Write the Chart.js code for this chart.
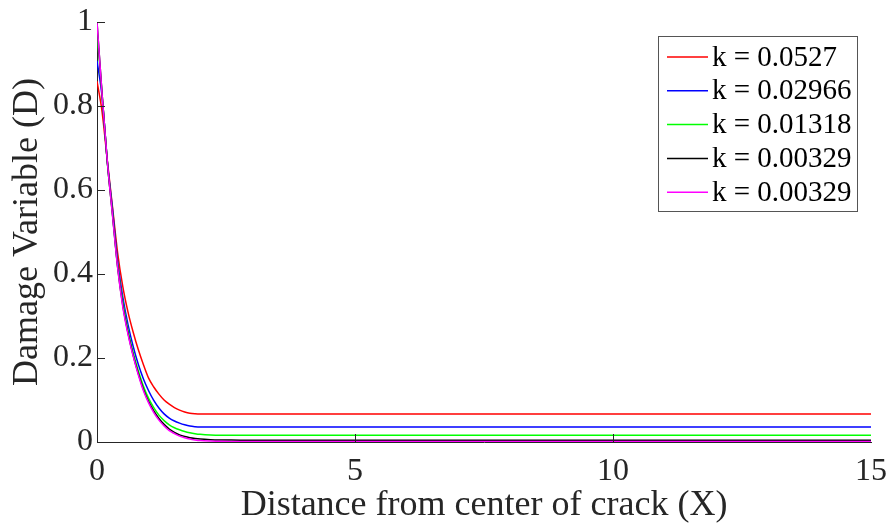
<!DOCTYPE html>
<html>
<head>
<meta charset="utf-8">
<title>Damage Variable</title>
<script src="https://cdn.jsdelivr.net/npm/chart.js@4.4.1/dist/chart.umd.min.js"></script>
<style>
    html, body { margin: 0; padding: 0; background: #ffffff; }
    #damage-chart { display: block; }
</style>
</head>
<body>
<canvas id="damage-chart" width="891" height="529"></canvas>
<script>
// Data
var distance = [0, 0.1, 0.2, 0.3, 0.4, 0.5, 0.6, 0.7, 0.8, 0.9, 1.0, 1.1, 1.2, 1.3, 1.4, 1.5, 1.6, 1.7, 1.8, 1.9, 2.0, 2.2, 2.4, 2.6, 2.8, 3.0, 15];
var seriesNames = ["k = 0.0527", "k = 0.02966", "k = 0.01318", "k = 0.00329", "k = 0.00329"];
var seriesColors = ["#ff0000", "#0000ff", "#00ff00", "#000000", "#ff00ff"];
var damageRed = [0.859, 0.785, 0.67, 0.56, 0.45, 0.37, 0.31, 0.262, 0.22, 0.184, 0.152, 0.131, 0.114, 0.1, 0.09, 0.082, 0.076, 0.0715, 0.0685, 0.0672, 0.0667, 0.0667, 0.0667, 0.0667, 0.0667, 0.0667, 0.0667];
var damageBlue = [0.908, 0.82, 0.668, 0.555, 0.43, 0.345, 0.28, 0.228, 0.185, 0.15, 0.122, 0.099, 0.081, 0.067, 0.057, 0.05, 0.045, 0.041, 0.038, 0.0365, 0.0357, 0.0355, 0.0355, 0.0355, 0.0355, 0.0355, 0.0355];
var damageGreen = [0.975, 0.826, 0.667, 0.545, 0.42, 0.333, 0.266, 0.213, 0.17, 0.133, 0.104, 0.082, 0.064, 0.051, 0.041, 0.034, 0.029, 0.025, 0.022, 0.0198, 0.0182, 0.0165, 0.016, 0.016, 0.016, 0.016, 0.016];
var damageBlack = [1.0, 0.826, 0.667, 0.542, 0.416, 0.325, 0.26, 0.207, 0.163, 0.125, 0.096, 0.074, 0.056, 0.042, 0.031, 0.023, 0.017, 0.013, 0.0102, 0.0083, 0.0069, 0.0055, 0.0048, 0.0045, 0.0044, 0.0044, 0.0044];
var damageMagenta = [1.0, 0.825, 0.668, 0.54, 0.415, 0.322, 0.257, 0.205, 0.16, 0.122, 0.093, 0.07, 0.052, 0.038, 0.027, 0.02, 0.014, 0.01, 0.007, 0.005, 0.0035, 0.0022, 0.0015, 0.0012, 0.001, 0.001, 0.001];
var xTicks = [0, 5, 10, 15];
var yTicks = [0, 0.2, 0.4, 0.6, 0.8, 1];

var allSeries = [damageRed, damageBlue, damageGreen, damageBlack, damageMagenta];
var serif = "'Liberation Serif', 'Times New Roman', serif";
var axisColor = "#262626";

function toPoints(values) {
    return values.map(function (v, i) {
        return {x: distance[i], y: v};
    });
}

var datasets = allSeries.map(function (values, i) {
    return {
        label: seriesNames[i],
        data: toPoints(values),
        borderColor: seriesColors[i],
        backgroundColor: seriesColors[i],
        borderWidth: 1.5,
        pointRadius: 0,
        fill: false,
        cubicInterpolationMode: "monotone",
        order: allSeries.length - i
    };
});

// Inward tick marks, like the original axes
var innerTicks = {
    id: "innerTicks",
    afterDatasetsDraw: function (chart) {
        var ctx = chart.ctx;
        var area = chart.chartArea;
        var xs = chart.scales.x;
        var ys = chart.scales.y;
        ctx.save();
        ctx.strokeStyle = axisColor;
        ctx.lineWidth = 1;
        ctx.beginPath();
        xTicks.forEach(function (t) {
            if (t === xTicks[0] || t === xTicks[xTicks.length - 1]) return;
            var px = Math.round(xs.getPixelForValue(t)) + 0.5;
            ctx.moveTo(px, area.bottom);
            ctx.lineTo(px, area.bottom - 8);
        });
        yTicks.forEach(function (t) {
            if (t === yTicks[0]) return;
            var py = Math.round(ys.getPixelForValue(t)) + 0.5;
            ctx.moveTo(area.left, py);
            ctx.lineTo(area.left + 8, py);
        });
        ctx.stroke();
        ctx.restore();
    }
};

// Boxed legend in the top right corner
var boxLegend = {
    id: "boxLegend",
    afterDraw: function (chart) {
        var ctx = chart.ctx;
        var left = 658, top = 36, width = 199, height = 175;
        var rowGap = 33.8, firstRow = 57;
        ctx.save();
        ctx.fillStyle = "#ffffff";
        ctx.fillRect(left, top, width, height);
        ctx.strokeStyle = "#555555";
        ctx.lineWidth = 1;
        ctx.strokeRect(left + 0.5, top + 0.5, width, height);
        ctx.font = "29px " + serif;
        ctx.textBaseline = "middle";
        ctx.textAlign = "left";
        chart.data.datasets.forEach(function (ds, i) {
            var y = firstRow + i * rowGap;
            ctx.strokeStyle = ds.borderColor;
            ctx.lineWidth = 1.5;
            ctx.beginPath();
            ctx.moveTo(667, y);
            ctx.lineTo(708, y);
            ctx.stroke();
            ctx.fillStyle = "#000000";
            ctx.fillText(ds.label, 712, y + 1);
        });
        ctx.restore();
    }
};

var ctx1 = document.getElementById("damage-chart").getContext("2d");
var damageChart = new Chart(ctx1, {
    type: "line",
    data: {datasets: datasets},
    options: {
        responsive: false,
        animation: false,
        devicePixelRatio: 1,
        layout: {padding: {left: 0, right: 20, top: 22, bottom: 0}},
        plugins: {
            legend: {display: false},
            tooltip: {enabled: false}
        },
        scales: {
            x: {
                type: "linear",
                min: 0,
                max: 15,
                afterBuildTicks: function (scale) {
                    scale.ticks = xTicks.map(function (v) { return {value: v}; });
                },
                afterFit: function (scale) {
                    scale.height = 87;
                    scale.paddingLeft = 0;
                    scale.paddingRight = 0;
                },
                grid: {display: true, drawOnChartArea: false, drawTicks: false},
                border: {display: true, color: axisColor, width: 1},
                ticks: {
                    color: "#262626",
                    padding: 10,
                    maxRotation: 0,
                    callback: function (v) { return String(v); },
                    font: {family: serif, size: 32}
                },
                title: {
                    display: true,
                    text: "Distance from center of crack (X)",
                    color: "#262626",
                    padding: {top: 0, bottom: 2},
                    font: {family: serif, size: 36, lineHeight: 1.2}
                }
            },
            y: {
                type: "linear",
                min: 0,
                max: 1,
                afterBuildTicks: function (scale) {
                    scale.ticks = yTicks.map(function (v) { return {value: v}; });
                },
                afterFit: function (scale) {
                    scale.width = 97;
                    scale.paddingTop = 0;
                    scale.paddingBottom = 0;
                },
                grid: {display: true, drawOnChartArea: false, drawTicks: false},
                border: {display: true, color: axisColor, width: 1},
                ticks: {
                    color: "#262626",
                    padding: 4,
                    callback: function (v) { return String(v); },
                    font: {family: serif, size: 32}
                },
                title: {
                    display: true,
                    text: "Damage Variable (D)",
                    color: "#262626",
                    padding: {top: 6, bottom: 0},
                    font: {family: serif, size: 36, lineHeight: 1.2}
                }
            }
        }
    },
    plugins: [innerTicks, boxLegend]
});
</script>
</body>
</html>
